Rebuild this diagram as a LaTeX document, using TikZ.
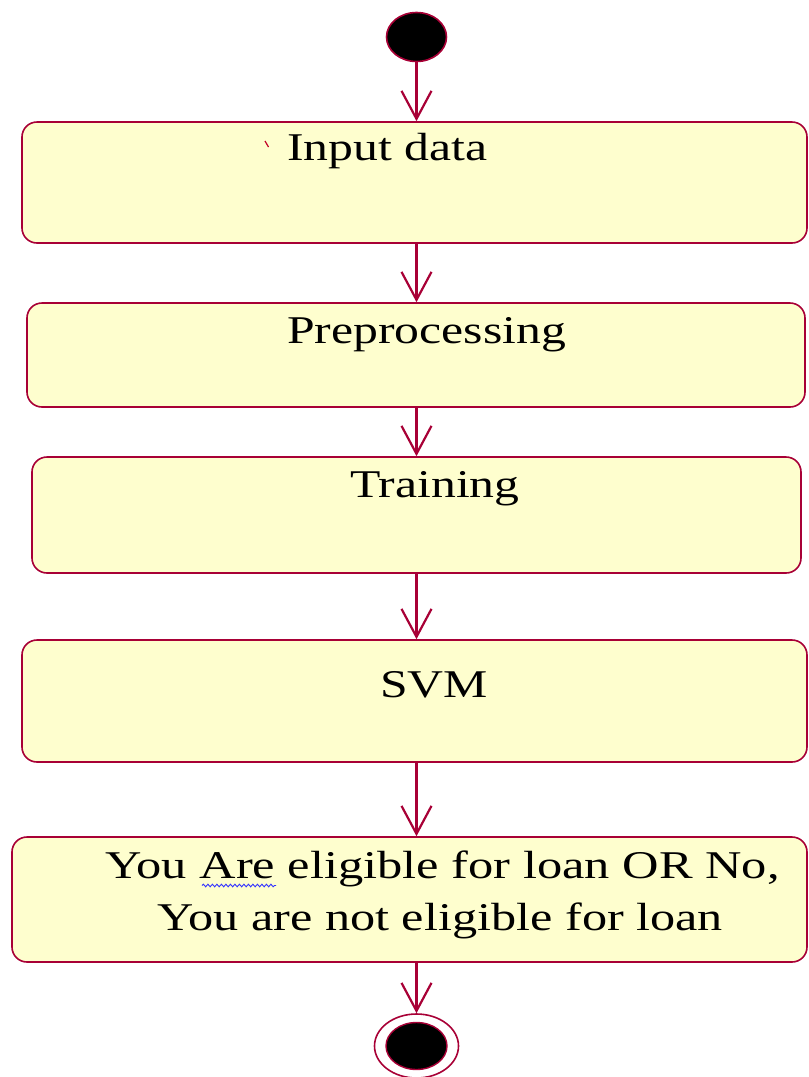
\documentclass[tikz,border=0pt]{standalone}
\usepackage{fontspec}
\setmainfont{Liberation Serif}
\usetikzlibrary{arrows.meta,shapes.geometric,decorations.pathmorphing}

\definecolor{umlborder}{HTML}{A80036}
\definecolor{umlfill}{HTML}{FEFECE}

% horizontally stretched label text
\newcommand{\widetext}[2][1.265]{\scalebox{#1}[1]{#2}}

\tikzset{
  activity/.style={draw=umlborder, fill=umlfill, line width=1.6pt,
    rounded corners=15pt, inner sep=0pt, rectangle},
  label text/.style={anchor=base west, inner sep=0pt, text=black,
    font=\fontsize{39.3}{47}\selectfont},
  flow/.style={draw=umlborder, line width=2.2pt,
    -{Straight Barb[length=28pt,width=30pt,line width=2.2pt]}},
}

\begin{document}
\begin{tikzpicture}[x=1pt, y=-1pt]
  \useasboundingbox (0,0) rectangle (809,1077);

  % initial node
  \node[ellipse, draw=umlborder, fill=black, line width=1.6pt,
        minimum width=60pt, minimum height=49pt, inner sep=0pt] (start) at (416.5,37) {};

  % activities
  \node[activity, minimum width=785pt, minimum height=121pt] (b1) at (414.5,182.5) {};
  \node[activity, minimum width=778pt, minimum height=104pt] (b2) at (416,355) {};
  \node[activity, minimum width=769pt, minimum height=116pt] (b3) at (416.5,515) {};
  \node[activity, minimum width=785pt, minimum height=122pt] (b4) at (414.5,701) {};
  \node[activity, minimum width=795pt, minimum height=125pt] (b5) at (409.5,899.5) {};

  % final node
  \node[ellipse, draw=umlborder, fill=white, line width=1.6pt,
        minimum width=84pt, minimum height=64pt, inner sep=0pt] (stop) at (416.5,1046) {};
  \node[ellipse, draw=umlborder, fill=black, line width=1.4pt,
        minimum width=61pt, minimum height=47pt, inner sep=0pt] (stopdot) at (stop.center) {};

  % labels
  \node[label text] (t1) at (287,160) {\widetext{Input data}};
  \node[label text] (t2) at (287,343) {\widetext{Preprocessing}};
  \node[label text] (t3) at (350,497) {\widetext{Training}};
  \node[label text] (t4) at (380,697) {\widetext{SVM}};
  \node[label text] (t5) at (105,878) {\widetext[1.284]{You Are eligible for loan OR No,}};
  \node[label text] (t6) at (157,930) {\widetext[1.279]{You are not eligible for loan}};

  % stray mark before the first label
  \draw[umlborder!70!red, line width=1.2pt] (265,141) -- (268.5,147);

  % spell-check squiggle under "Are"
  \draw[blue!80, line width=0.9pt,
        decorate, decoration={snake, amplitude=1.3pt, segment length=4.5pt}]
        (202,885.5) -- (276,885.5);

  % control flow
  \draw[flow] (start.south) -- (start |- b1.north);
  \draw[flow] (b1.south -| start) -- (b2.north -| start);
  \draw[flow] (b2.south -| start) -- (b3.north -| start);
  \draw[flow] (b3.south -| start) -- (b4.north -| start);
  \draw[flow] (b4.south -| start) -- (b5.north -| start);
  \draw[flow] (b5.south -| start) -- (stop.north);
\end{tikzpicture}
\end{document}
